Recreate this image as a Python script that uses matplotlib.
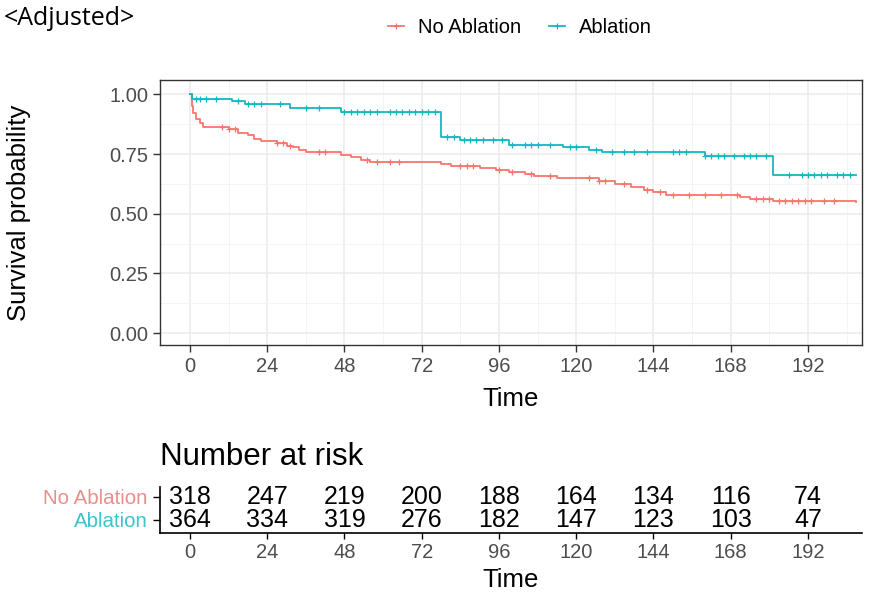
import numpy as np
import matplotlib
matplotlib.use("Agg")
import matplotlib.pyplot as plt
from matplotlib.lines import Line2D

plt.rcParams['font.family'] = ['Liberation Sans', 'DejaVu Sans']

# Kaplan-Meier steps (time, survival) per group
groups = ["No Ablation", "Ablation"]
colors = ["#F8766D", "#16B7C2"]
label_colors = ["#E8908A", "#3CC3CC"]

red_t = [0, 0.5, 1, 2, 3, 4, 12, 15, 18, 20, 22, 27, 30, 32, 34, 36, 47, 50, 53,
         56, 78, 81, 90, 95, 99, 104, 107, 114, 127, 132, 137, 141, 144, 148,
         171, 174, 181, 207]
red_s = [1.0, 0.95, 0.92, 0.895, 0.88, 0.865, 0.855, 0.84, 0.83, 0.815, 0.805,
         0.795, 0.785, 0.778, 0.768, 0.758, 0.748, 0.737, 0.727, 0.717, 0.708,
         0.70, 0.692, 0.683, 0.675, 0.667, 0.658, 0.65, 0.638, 0.625, 0.613,
         0.60, 0.59, 0.579, 0.57, 0.5625, 0.554, 0.548]
red_cens = [10, 12, 14, 27, 29, 31, 40, 42, 55, 58, 62, 65, 84, 86, 88, 96, 100,
            106, 112, 124, 127, 129, 135, 142, 146, 150, 155, 160, 165, 170,
            176, 178, 180, 183, 185, 187, 189, 191, 193, 197, 200]

blue_t = [0, 0.5, 13, 17, 31, 47, 78, 84, 99, 116, 124, 128, 160, 181, 207]
blue_s = [1.0, 0.979, 0.971, 0.958, 0.942, 0.925, 0.821, 0.808, 0.79, 0.779,
          0.767, 0.758, 0.742, 0.6625, 0.6625]
blue_cens = [2, 3, 5, 8, 15, 18, 20, 22, 28, 36, 40, 48, 50, 52, 54, 56, 58, 62,
             64, 66, 68, 70, 72, 74, 76, 80, 82, 85, 87, 89, 91, 94, 97, 100,
             104, 106, 108, 112, 118, 120, 126, 131, 135, 138, 142, 150, 152,
             154, 160, 162, 164, 166, 169, 172, 174, 176, 179, 186, 190, 192,
             194, 196, 198, 201, 203, 205]

risk_times = [0, 24, 48, 72, 96, 120, 144, 168, 192]
risk_no = [318, 247, 219, 200, 188, 164, 134, 116, 74]
risk_abl = [364, 334, 319, 276, 182, 147, 123, 103, 47]

xlim = (-9.3, 208.8)
grey = "#4D4D4D"

fig = plt.figure(figsize=(8.71, 5.93), dpi=100)
ax = fig.add_axes([0.1837, 0.418, 0.806, 0.447])

curves = [(red_t, red_s, red_cens), (blue_t, blue_s, blue_cens)]
for (t, s, cens), col in zip(curves, colors):
    t = np.array(t)
    s = np.array(s)
    ax.step(t, s, where='post', color=col, lw=1.3, zorder=3)
    cens = np.array(cens)
    idx = np.searchsorted(t, cens, side='right') - 1
    ax.plot(cens, s[idx], linestyle='none', marker='+', ms=4, mew=0.9,
            color=col, zorder=3)

ax.set_xlim(*xlim)
ax.set_ylim(-0.05, 1.06)
ax.set_xticks(risk_times)
ax.set_xticks(np.arange(12, 205, 24), minor=True)
ax.set_yticks([0, 0.25, 0.5, 0.75, 1.0])
ax.set_yticks([0.125, 0.375, 0.625, 0.875], minor=True)
ax.set_yticklabels(["0.00", "0.25", "0.50", "0.75", "1.00"])
ax.grid(which='major', color="#EBEBEB", lw=1.1)
ax.grid(which='minor', color="#F3F3F3", lw=0.6)
ax.set_axisbelow(True)
for sp in ax.spines.values():
    sp.set_color("#333333")
    sp.set_linewidth(1.0)
ax.tick_params(which='major', labelsize=14.5, labelcolor=grey, color="#333333",
               length=5, width=1.0)
ax.tick_params(which='minor', length=0)
ax.set_xlabel("Time", fontsize=18.5, labelpad=8)
ax.set_ylabel("Survival probability", fontsize=18.5, labelpad=56)

handles = [Line2D([], [], color=c, lw=1.3, marker='+', ms=4, mew=0.9) for c in colors]
fig.legend(handles, groups, loc='center', bbox_to_anchor=(0.597, 0.953), ncol=2,
           frameon=False, fontsize=14.5, handlelength=0.8, handletextpad=0.7,
           columnspacing=1.4)

fig.text(0.004, 0.968, "<Adjusted>", fontsize=18, va='center', ha='left',
         family=['Open Sans', 'DejaVu Sans'])

# number-at-risk table
rt = fig.add_axes([0.1837, 0.1012, 0.806, 0.0776])
rt.set_xlim(*xlim)
rt.set_ylim(0.435, 2.435)
for x, a, b in zip(risk_times, risk_no, risk_abl):
    rt.text(x, 2, str(a), ha='center', va='center', fontsize=18)
    rt.text(x, 1, str(b), ha='center', va='center', fontsize=18)
rt.set_xticks(risk_times)
rt.set_yticks([2, 1])
rt.set_yticklabels(groups)
for lab, col in zip(rt.get_yticklabels(), label_colors):
    lab.set_color(col)
rt.tick_params(axis='y', labelsize=14.8, length=5, width=1.0, pad=4)
rt.tick_params(axis='x', labelsize=14.5, labelcolor=grey, length=4, width=1.0)
rt.spines['top'].set_visible(False)
rt.spines['right'].set_visible(False)
rt.spines['left'].set_linewidth(1.2)
rt.spines['bottom'].set_linewidth(1.2)
rt.set_xlabel("Time", fontsize=18.5, labelpad=4)
rt.set_title("Number at risk", fontsize=22.5, loc='left', pad=16)

fig.savefig("out.png", dpi=100)
